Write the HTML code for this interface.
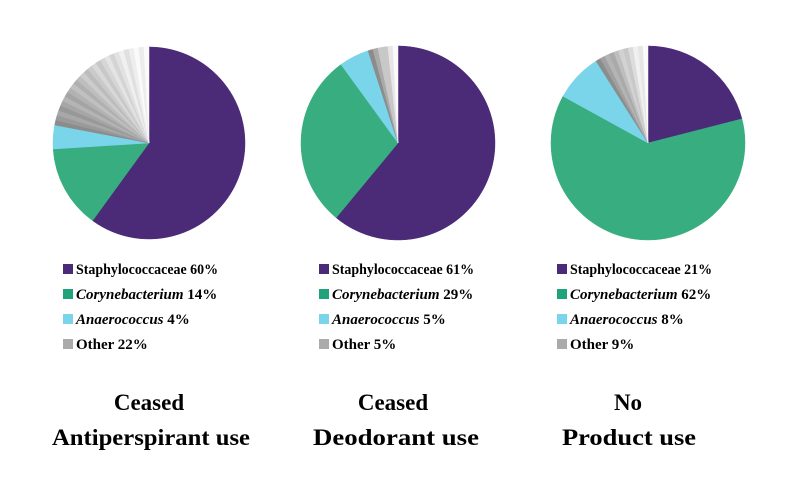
<!DOCTYPE html>
<html><head><meta charset="utf-8"><style>
html,body{margin:0;padding:0;background:#fff;}
svg{display:block;}
text{font-family:"Liberation Serif",serif;fill:#000;}
</style></head><body>
<svg id="s" width="800" height="495" viewBox="0 0 800 495" xmlns="http://www.w3.org/2000/svg">
<g id="pies"></g>
<g font-size="15" font-weight="bold">
  <rect x="63" y="264" width="10" height="10" fill="#4b2a77"/>
  <text x="76" y="274" textLength="142" lengthAdjust="spacingAndGlyphs">Staphylococcaceae 60%</text>
  <rect x="63" y="289" width="10" height="10" fill="#20a37a"/>
  <text x="76" y="299"><tspan font-style="italic">Corynebacterium</tspan> 14%</text>
  <rect x="63" y="314" width="10" height="10" fill="#7ad4ea"/>
  <text x="76" y="324"><tspan font-style="italic">Anaerococcus</tspan> 4%</text>
  <rect x="63" y="339" width="10" height="10" fill="#aaa"/>
  <text x="76" y="349">Other 22%</text>

  <rect x="319" y="264" width="10" height="10" fill="#4b2a77"/>
  <text x="332" y="274" textLength="142" lengthAdjust="spacingAndGlyphs">Staphylococcaceae 61%</text>
  <rect x="319" y="289" width="10" height="10" fill="#20a37a"/>
  <text x="332" y="299"><tspan font-style="italic">Corynebacterium</tspan> 29%</text>
  <rect x="319" y="314" width="10" height="10" fill="#7ad4ea"/>
  <text x="332" y="324"><tspan font-style="italic">Anaerococcus</tspan> 5%</text>
  <rect x="319" y="339" width="10" height="10" fill="#aaa"/>
  <text x="332" y="349">Other 5%</text>

  <rect x="557" y="264" width="10" height="10" fill="#4b2a77"/>
  <text x="570" y="274" textLength="142" lengthAdjust="spacingAndGlyphs">Staphylococcaceae 21%</text>
  <rect x="557" y="289" width="10" height="10" fill="#20a37a"/>
  <text x="570" y="299"><tspan font-style="italic">Corynebacterium</tspan> 62%</text>
  <rect x="557" y="314" width="10" height="10" fill="#7ad4ea"/>
  <text x="570" y="324"><tspan font-style="italic">Anaerococcus</tspan> 8%</text>
  <rect x="557" y="339" width="10" height="10" fill="#aaa"/>
  <text x="570" y="349">Other 9%</text>
</g>
<g font-size="23" font-weight="bold" text-anchor="middle">
  <text x="149" y="410">Ceased</text>
  <text x="151" y="445" textLength="198" lengthAdjust="spacingAndGlyphs">Antiperspirant use</text>
  <text x="393" y="410">Ceased</text>
  <text x="396" y="445" textLength="166" lengthAdjust="spacingAndGlyphs">Deodorant use</text>
  <text x="628" y="410">No</text>
  <text x="629" y="445" textLength="134" lengthAdjust="spacingAndGlyphs">Product use</text>
</g>
</svg>
<script>
(function(){
var g=document.getElementById('pies');
function pt(cx,cy,r,a){var t=a*Math.PI/180;return [cx+r*Math.sin(t),cy-r*Math.cos(t)];}
function slice(cx,cy,r,a0,a1,col){
  var p0=pt(cx,cy,r,a0),p1=pt(cx,cy,r,a1);
  var la=(a1-a0)>180?1:0;
  var p=document.createElementNS('http://www.w3.org/2000/svg','path');
  p.setAttribute('d','M'+cx+','+cy+'L'+p0[0]+','+p0[1]+'A'+r+','+r+' 0 '+la+' 1 '+p1[0]+','+p1[1]+'Z');
  p.setAttribute('fill',col);p.setAttribute('stroke',col);p.setAttribute('stroke-width','0.5');
  g.appendChild(p);
}
function pie(cx,cy,r,vals){
  var a=0;
  var cols=['#4b2a77','#38ad80','#7ad4ea'];
  for(var i=0;i<3;i++){var b=a+vals[i]*3.6;slice(cx,cy,r,a,b,cols[i]);a=b;}
  var n=Math.max(6,Math.round((360-a)/3));
  var step=(360-a)/n;
  for(var j=0;j<n;j++){
    var f=j/(n-1);
    var v=Math.round(150+f*100+((j%3)-1)*10);
    v=Math.min(250,Math.max(120,v));
    var c='rgb('+v+','+v+','+v+')';
    slice(cx,cy,r,a+j*step,a+(j+1)*step,c);
  }
}
pie(149,143,96,[60,14,4]);
pie(398,143,97,[61,29,5]);
pie(648,143,97,[21,62,8]);
})();
</script>
</body></html>
